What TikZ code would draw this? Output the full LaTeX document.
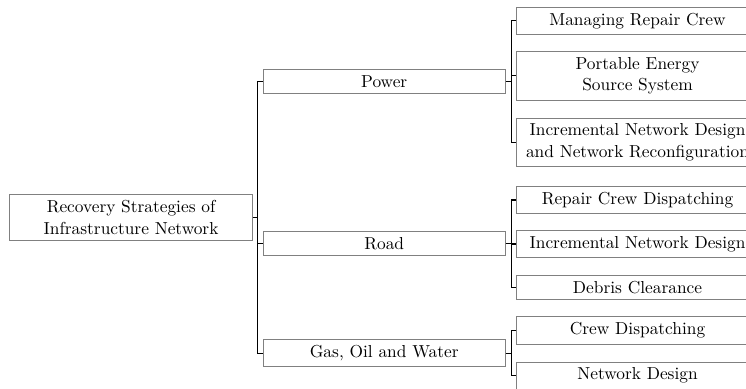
\documentclass[tikz,border=0pt]{standalone}
\begin{document}
\begin{tikzpicture}[x=0.5764pt,y=-0.5764pt,
  box/.style={draw=black!50,line width=0.6pt,anchor=west,align=center,inner sep=3.33pt,
    font=\fontsize{10pt}{12.4pt}\selectfont},
  rootbox/.style={box,minimum width=140.1pt},
  midbox/.style={box,minimum width=139.5pt},
  leafbox/.style={box,minimum width=139.5pt},
  conn/.style={draw=black,line width=0.8pt}]
\useasboundingbox (0,0) rectangle (746,388);
\clip (0,0) rectangle (746,388);
\node[rootbox] (root) at (9,217.5) {Recovery Strategies of\\Infrastructure Network};
\node[midbox] (power) at (262.7,81.7) {Power};
\node[midbox] (road) at (262.7,243.3) {Road};
\node[midbox] (gas) at (262.7,353.3) {Gas, Oil and Water};
\node[leafbox] (p1) at (516,20.7) {Managing Repair Crew};
\node[leafbox] (p2) at (516,75.8) {Portable Energy\\Source System};
\node[leafbox] (p3) at (516,142.5) {Incremental Network Design\\and Network Reconfiguration};
\node[leafbox] (r1) at (516,200) {Repair Crew Dispatching};
\node[leafbox] (r2) at (516,244) {Incremental Network Design};
\node[leafbox] (r3) at (516,287.5) {Debris Clearance};
\node[leafbox] (g1) at (516,330.5) {Crew Dispatching};
\node[leafbox] (g2) at (516,375.7) {Network Design};
\foreach \c in {power,road,gas}
  \draw[conn] (root.east) -- ++(4.7,0) |- (\c.west);
\foreach \c in {p1,p2,p3}
  \draw[conn] (power.east) -- ++(5.7,0) |- (\c.west);
\foreach \c in {r1,r2,r3}
  \draw[conn] (road.east) -- ++(5.7,0) |- (\c.west);
\foreach \c in {g1,g2}
  \draw[conn] (gas.east) -- ++(5.7,0) |- (\c.west);
\end{tikzpicture}
\end{document}
